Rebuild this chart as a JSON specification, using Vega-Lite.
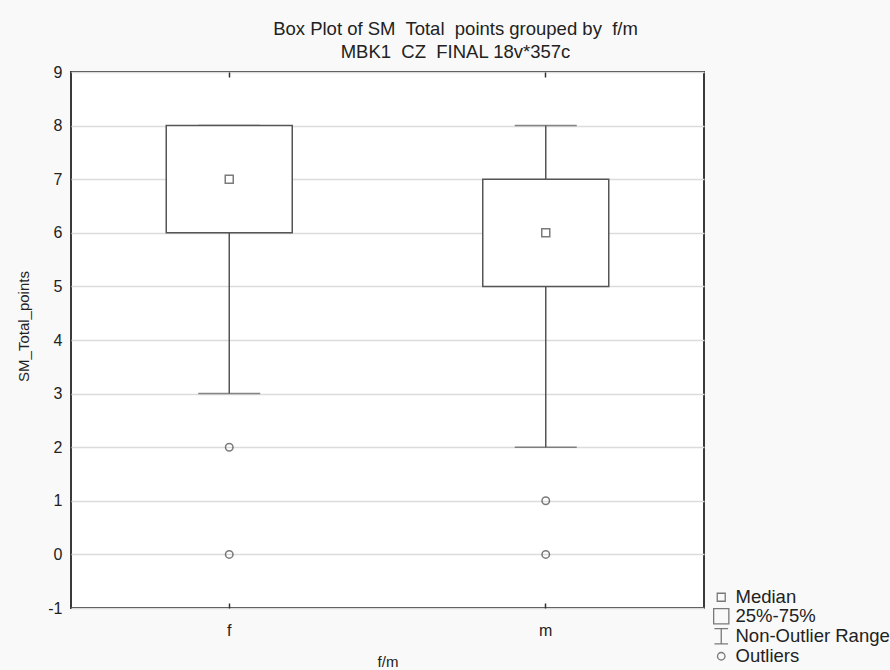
{
  "$schema": "https://vega.github.io/schema/vega-lite/v6.json",
  "autosize": {"type": "none"},
  "padding": {"left": 71, "top": 72, "right": 186, "bottom": 62},
  "width": 633,
  "height": 536,
  "background": "#f9f9f9",
  "config": {
    "font": "Liberation Sans",
    "view": {"fill": "white", "stroke": "#3a3a3a", "strokeWidth": 2},
    "axis": {"labelFont": "Liberation Sans", "titleFont": "Liberation Sans", "labelColor": "#222", "titleColor": "#222", "titleFontWeight": "normal"}
  },
  "title": {
    "text": ["Box Plot of SM\u00a0 Total\u00a0 points grouped by\u00a0 f/m", "MBK1\u00a0 CZ\u00a0 FINAL 18v*357c"],
    "anchor": "middle",
    "frame": "group",
    "dx": 68,
    "offset": 3,
    "fontSize": 18.5,
    "fontWeight": "normal",
    "font": "Liberation Sans",
    "color": "#222",
    "lineHeight": 23
  },
  "datasets": {
    "stats": [
      {"g": "f", "q1": 6, "q3": 8, "med": 7, "lo": 3, "hi": 8, "kind": "Median"},
      {"g": "m", "q1": 5, "q3": 7, "med": 6, "lo": 2, "hi": 8, "kind": "Median"}
    ],
    "outliers": [
      {"g": "f", "v": 2, "kind": "Outliers"},
      {"g": "f", "v": 0, "kind": "Outliers"},
      {"g": "m", "v": 1, "kind": "Outliers"},
      {"g": "m", "v": 0, "kind": "Outliers"}
    ]
  },
  "resolve": {"axis": {"x": "independent"}},
  "layer": [
    {
      "data": {"name": "stats"},
      "mark": {"type": "rule", "color": "#555", "strokeWidth": 1.5},
      "encoding": {
        "x": {"field": "g", "type": "nominal", "scale": {"paddingInner": 0, "paddingOuter": 0},
          "axis": {"orient": "bottom", "offset": -5, "title": "f/m", "labelAngle": 0, "labelFontSize": 16, "labelPadding": 14, "tickSize": 5, "tickWidth": 1.5, "tickColor": "#333", "domain": false, "titleFontSize": 15, "titlePadding": 16, "grid": false, "zindex": 2}},
        "y": {"field": "lo", "type": "quantitative", "scale": {"domain": [-1, 9], "nice": false, "zero": false},
          "axis": {"title": "SM_Total_points", "titleY": 254, "values": [-1, 0, 1, 2, 3, 4, 5, 6, 7, 8, 9], "labelExpr": "'' + datum.value", "ticks": false, "domain": false, "grid": true, "gridColor": "#dcdcdc", "gridWidth": 1.5, "labelFontSize": 16, "labelPadding": 9, "titleFontSize": 15, "titlePadding": 16}},
        "y2": {"field": "hi"}
      }
    },
    {
      "data": {"name": "stats"},
      "mark": {"type": "tick", "color": "#555", "size": 62, "thickness": 1.5},
      "encoding": {
        "x": {"field": "g", "type": "nominal", "axis": null},
        "y": {"field": "lo", "type": "quantitative"}
      }
    },
    {
      "data": {"name": "stats"},
      "mark": {"type": "tick", "color": "#555", "size": 62, "thickness": 1.5},
      "encoding": {
        "x": {"field": "g", "type": "nominal", "axis": null},
        "y": {"field": "hi", "type": "quantitative"}
      }
    },
    {
      "data": {"name": "stats"},
      "mark": {"type": "bar", "fill": "white", "stroke": "#555", "strokeWidth": 1.5, "size": 126},
      "encoding": {
        "x": {"field": "g", "type": "nominal", "axis": null},
        "y": {"field": "q1", "type": "quantitative"},
        "y2": {"field": "q3"}
      }
    },
    {
      "data": {"name": "stats"},
      "mark": {"type": "point", "filled": false, "color": "#444", "strokeWidth": 1.5, "size": 256},
      "encoding": {
        "x": {"field": "g", "type": "nominal", "axis": null},
        "y": {"field": "med", "type": "quantitative"},
        "shape": {"field": "kind", "type": "nominal",
          "scale": {"domain": ["Median", "25%-75%", "Non-Outlier Range", "Outliers"], "range": ["M-0.5,-0.5H0.5V0.5H-0.5Z", "M-0.95,-0.95H0.95V0.95H-0.95Z", "M-0.85,-0.95H0.85M0,-0.95V0.95M-0.85,0.95H0.85", "M0.47,0A0.47,0.47 0 1,1 -0.47,0A0.47,0.47 0 1,1 0.47,0Z"]},
          "legend": {"title": null, "orient": "none", "legendX": 641, "legendY": 516, "labelFontSize": 18.5, "labelColor": "#222", "labelFont": "Liberation Sans", "rowPadding": -5, "padding": 0, "symbolSize": 256, "symbolStrokeColor": "#444", "symbolStrokeWidth": 1.3, "labelOffset": 5, "symbolFillColor": "transparent"}
        }
      }
    },
    {
      "data": {"name": "outliers"},
      "mark": {"type": "point", "filled": false, "color": "#444", "strokeWidth": 1.5, "size": 256},
      "encoding": {
        "x": {"field": "g", "type": "nominal", "axis": {"orient": "top", "offset": -5, "title": null, "labels": false, "tickSize": 5, "tickWidth": 1.5, "tickColor": "#333", "domain": false, "grid": false, "zindex": 2}},
        "y": {"field": "v", "type": "quantitative"},
        "shape": {"field": "kind", "type": "nominal"}
      }
    }
  ]
}
